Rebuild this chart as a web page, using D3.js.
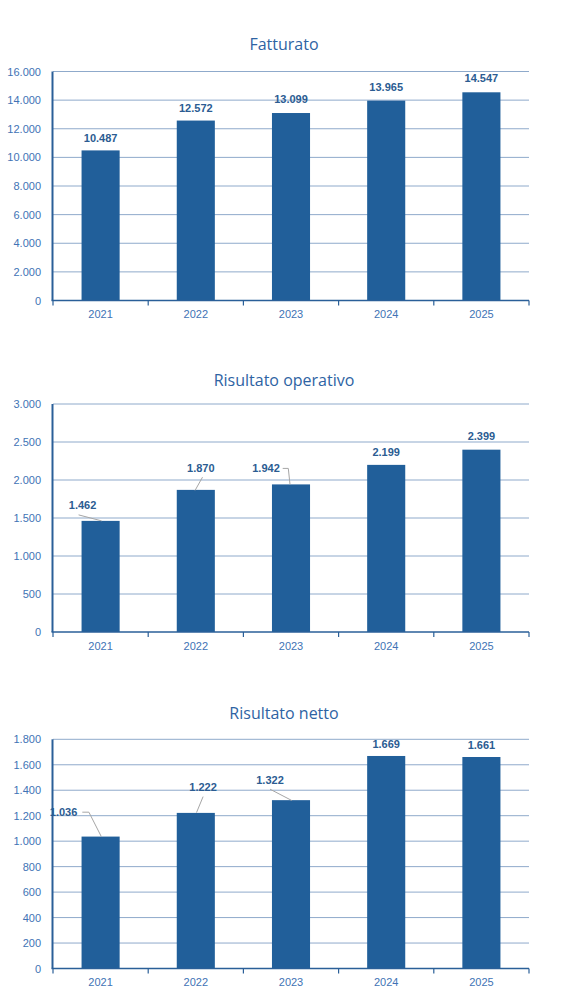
<!DOCTYPE html>
<html>
<head>
<meta charset="utf-8">
<script src="https://cdn.jsdelivr.net/npm/d3@7"></script>
<style>
  html, body { margin: 0; padding: 0; background: #ffffff; }
  svg { display: block; }
</style>
</head>
<body>
<svg id="chart" width="579" height="1006"></svg>
<script>
// ---- data ----
const years = ["2021", "2022", "2023", "2024", "2025"];
const fatturato = [10487, 12572, 13099, 13965, 14547];
const risultatoOperativo = [1462, 1870, 1942, 2199, 2399];
const risultatoNetto = [1036, 1222, 1322, 1669, 1661];
const ticksFatturato = [0, 2000, 4000, 6000, 8000, 10000, 12000, 14000, 16000];
const ticksOperativo = [0, 500, 1000, 1500, 2000, 2500, 3000];
const ticksNetto = [0, 200, 400, 600, 800, 1000, 1200, 1400, 1600, 1800];
const titles = ["Fatturato", "Risultato operativo", "Risultato netto"];

// ---- styles / layout ----
const BAR = "#215F9A";
const GRID = "#8FAACB";
const AXIS = "#2A5F98";
const TICKTXT = "#4173B5";
const LABELTXT = "#2B5C92";
const TITLETXT = "#2E63A3";
const LEADER = "#A6A6A6";

const fmt = v => d3.format(",")(v).replace(/,/g, ".");

// label placement (relative to bar top centre) and leader lines
const placements = [
  [ {dx:0,dy:-12}, {dx:0,dy:-13}, {dx:0,dy:-14}, {dx:0,dy:-14}, {dx:0,dy:-14} ],
  [ {dx:-18,dy:-16, lead:[[-22,-6],[1,0]]},
    {dx:5,dy:-22, lead:[[6.7,-12.7],[-0.7,0.5]]},
    {dx:-25,dy:-16, lead:[[-8.3,-16],[-2.7,-16],[-1,0]]},
    {dx:0,dy:-13}, {dx:0,dy:-14} ],
  [ {dx:-37,dy:-24.4, lead:[[-18.3,-24.4],[-11.7,-24.4],[0.7,0]]},
    {dx:7.3,dy:-25.7, lead:[[7.3,-16.3],[0.7,-0.3]]},
    {dx:-21,dy:-20, lead:[[-21,-11],[0.7,0.3]]},
    {dx:0,dy:-12}, {dx:0,dy:-12} ]
];

const panels = [
  {title: titles[0], values: fatturato, ticks: ticksFatturato, titleY: 44, top: 71.5, bottom: 300.5},
  {title: titles[1], values: risultatoOperativo, ticks: ticksOperativo, titleY: 380, top: 404, bottom: 632},
  {title: titles[2], values: risultatoNetto, ticks: ticksNetto, titleY: 713, top: 739.3, bottom: 968.5}
];

const svg = d3.select("#chart");
svg.append("rect").attr("width", 579).attr("height", 1006).attr("fill", "#fff");

const xLeft = 53, xRight = 529;
const x = d3.scaleBand().domain(years).range([xLeft, xRight]).paddingInner(0.6).paddingOuter(0.3);

panels.forEach((p, pi) => {
  const g = svg.append("g");
  const y = d3.scaleLinear().domain([0, d3.max(p.ticks)]).range([p.bottom, p.top]);

  g.append("text")
    .attr("x", 284).attr("y", p.titleY)
    .attr("text-anchor", "middle").attr("dominant-baseline", "central")
    .attr("font-family", "'Open Sans', 'Noto Sans', sans-serif")
    .attr("font-size", 16).attr("fill", TITLETXT)
    .text(p.title);

  // gridlines
  g.append("g").selectAll("line").data(p.ticks.filter(t => t > 0)).join("line")
    .attr("x1", xLeft).attr("x2", xRight)
    .attr("y1", d => y(d)).attr("y2", d => y(d))
    .attr("stroke", GRID).attr("stroke-width", 1);

  // y tick labels
  g.append("g").selectAll("text").data(p.ticks).join("text")
    .attr("x", 41).attr("y", d => y(d))
    .attr("text-anchor", "end").attr("dominant-baseline", "central")
    .attr("font-family", "'Liberation Sans', Arial, sans-serif")
    .attr("font-size", 11).attr("fill", TICKTXT)
    .text(d => fmt(d));

  // bars
  g.append("g").selectAll("rect").data(p.values).join("rect")
    .attr("x", (d, i) => x(years[i]))
    .attr("width", x.bandwidth())
    .attr("y", d => y(d))
    .attr("height", d => y(0) - y(d))
    .attr("fill", BAR);

  // y axis line
  g.append("line")
    .attr("x1", xLeft - 0.5).attr("x2", xLeft - 0.5)
    .attr("y1", p.top).attr("y2", p.bottom)
    .attr("stroke", AXIS).attr("stroke-width", 2);

  // x axis
  const xa = d3.axisBottom(x).tickSize(0).tickPadding(10);
  const axG = g.append("g").attr("transform", `translate(0,${p.bottom})`).call(xa);
  axG.select(".domain").remove();
  axG.selectAll("text")
    .attr("font-family", "'Liberation Sans', Arial, sans-serif")
    .attr("font-size", 11).attr("fill", TICKTXT);
  g.append("line")
    .attr("x1", xLeft - 1.5).attr("x2", xRight)
    .attr("y1", p.bottom).attr("y2", p.bottom)
    .attr("stroke", AXIS).attr("stroke-width", 1.5);
  const bounds = d3.range(years.length + 1).map(i => xLeft + i * x.step());
  g.append("g").selectAll("line").data(bounds).join("line")
    .attr("x1", d => d).attr("x2", d => d)
    .attr("y1", p.bottom).attr("y2", p.bottom + 5)
    .attr("stroke", AXIS).attr("stroke-width", 1.2);

  // leader lines and data labels
  p.values.forEach((v, i) => {
    const cx = x(years[i]) + x.bandwidth() / 2;
    const ty = y(v);
    const pl = placements[pi][i];
    if (pl.lead) {
      g.append("path")
        .attr("d", d3.line()(pl.lead.map(pt => [cx + pt[0], ty + pt[1]])))
        .attr("fill", "none").attr("stroke", LEADER).attr("stroke-width", 1);
    }
    g.append("text")
      .attr("x", cx + pl.dx).attr("y", ty + pl.dy)
      .attr("text-anchor", "middle").attr("dominant-baseline", "central")
      .attr("font-family", "'Liberation Sans', Arial, sans-serif")
      .attr("font-size", 11).attr("font-weight", "bold").attr("fill", LABELTXT)
      .text(fmt(v));
  });
});
</script>
</body>
</html>
